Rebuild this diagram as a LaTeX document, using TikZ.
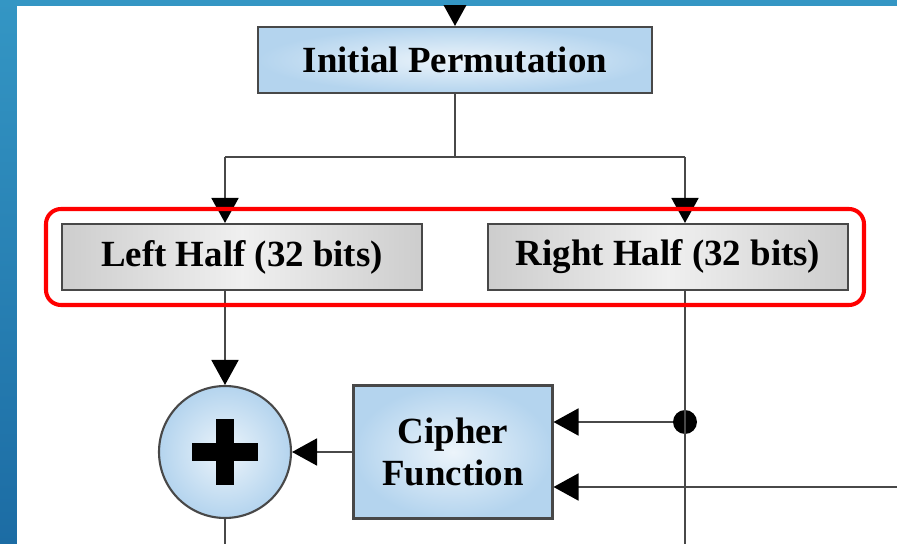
\documentclass[tikz,border=0pt]{standalone}
\usepackage{fontspec}
\setmainfont{Liberation Serif}
\usetikzlibrary{arrows.meta,shapes}
\definecolor{slidetop}{RGB}{52,150,196}
\definecolor{slidebottom}{RGB}{28,108,164}
\definecolor{boxblue}{RGB}{180,212,238}
\definecolor{boxgray}{RGB}{205,205,205}
\definecolor{linegray}{RGB}{72,72,72}
\tikzstyle{block}=[rectangle,draw=linegray,line width=1.2pt,inner color=boxblue!25!white,outer color=boxblue,align=center,font=\bfseries\fontsize{21}{24}\selectfont]
\tikzstyle{half}=[rectangle,draw=linegray,line width=1.2pt,left color=boxgray,right color=boxgray,middle color=gray!12,minimum width=7.2cm,minimum height=1.32cm,font=\bfseries\fontsize{21}{24}\selectfont]
\tikzstyle{xorc}=[circle,draw=linegray,line width=1.2pt,inner color=boxblue!25!white,outer color=boxblue,minimum size=2.64cm]
\tikzstyle{wire}=[draw=linegray,line width=1.1pt]
\tikzstyle{tap}=[circle,fill=black,inner sep=0pt,minimum size=0.48cm]

\begin{document}
\begin{tikzpicture}[x=0.02cm,y=-0.02cm,>={Triangle[width=0.54cm,length=0.5cm,color=black]}]
        \useasboundingbox (0,0) rectangle (897,544);
        % slide background
        \shade[top color=slidetop,bottom color=slidebottom] (0,0) rectangle (897,544);
        \begin{scope}
        \clip (17,6) rectangle (897,544);
        \fill[white] (17,6) rectangle (897,544);

        \node at (455,60) [block,minimum width=7.88cm,minimum height=1.32cm] (IP) {Initial Permutation};
        \node at (242,257) [half] (Left) {Left Half (32 bits)};
        \node at (668,257) [half] (Right) {Right Half (32 bits)};
        \node at (225,452) [xorc] (xor) {};
        \node at (453,452) [block,minimum width=3.98cm,minimum height=2.66cm] (Cipher) {Cipher\\Function};
        \node at (685,422) [tap] (dot) {};

        \coordinate (in) at (455,-20);
        \coordinate (split) at (455,157);
        \coordinate (splitL) at (225,157);
        \coordinate (splitR) at (685,157);
        \coordinate (key) at (910,487);
        \coordinate (xbot) at (225,560);
        \coordinate (rbot) at (685,560);

        % plus sign
        \draw [line width=0.38cm] (xor) +(-33,0) -- +(33,0) (xor) +(0,-33) -- +(0,33);

        \draw [wire,->] (in) to (IP);
        \draw [wire] (IP.south) -- (split) (splitL) -- (splitR);
        \draw [wire,->] (splitL) -- (splitL |- Left.north);
        \draw [wire,->] (splitR) -- (splitR |- Right.north);
        \draw [wire,->] (xor.north |- Left.south) -- (xor.north);
        \draw [wire] (xor.south) -- (xbot);
        \draw [wire,->] (Cipher.west) -- (xor.east);
        \draw [wire] (splitR |- Right.south) -- (rbot);
        \draw [wire,->] (dot) -- (dot -| Cipher.east);
        \draw [wire,->] (key) -- (key -| Cipher.east);

        % highlight round the two halves
        \draw [red,line width=2.3pt,rounded corners=0.3cm] (46,209) rectangle (864,305);
        \end{scope}
      \end{tikzpicture}
\end{document}
